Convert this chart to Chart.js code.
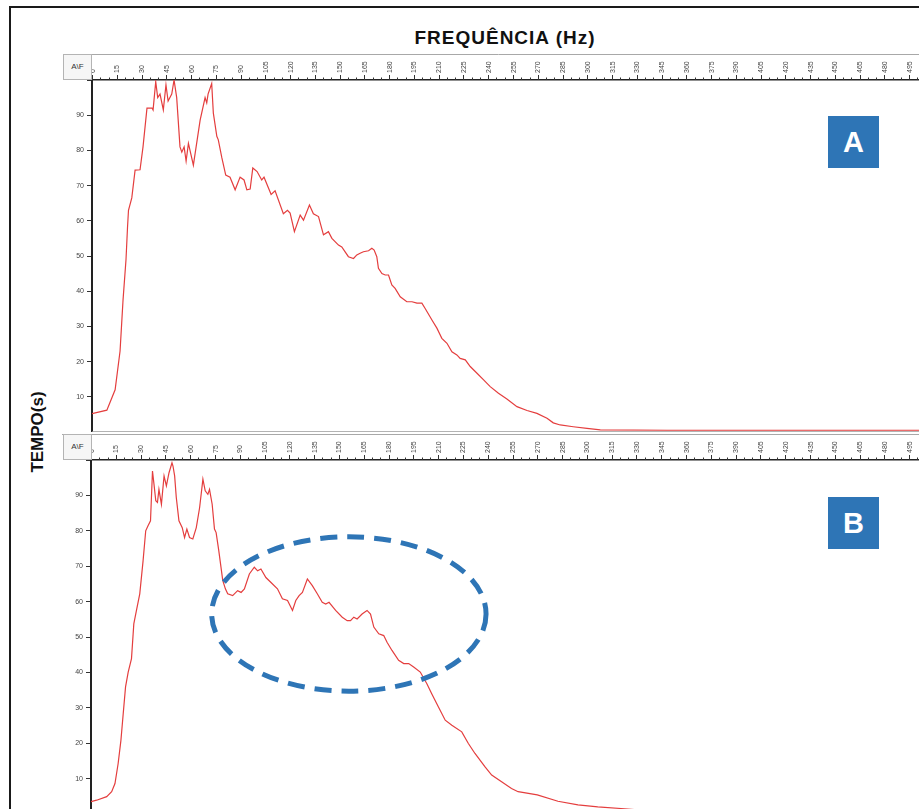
<!DOCTYPE html>
<html lang="pt">
<head>
<meta charset="UTF-8">
<title>Frequência x Tempo</title>
<script src="https://cdn.jsdelivr.net/npm/chart.js"></script>
<style>
  html, body { margin: 0; padding: 0; background: #fff; width: 919px; height: 809px; overflow: hidden; }
  body { position: relative; font-family: "Liberation Sans", Arial, sans-serif; }
  .moldura { position: absolute; left: 9px; top: 6px; width: 1000px; height: 1000px; border: 2px solid #1a1a1a; }
  .titulo { position: absolute; left: 355px; width: 300px; top: 27px; text-align: center;
            font-weight: bold; font-size: 19px; letter-spacing: 1px; color: #111; }
  .eixo-y { position: absolute; left: 38px; top: 432px; transform: translate(-50%, -50%) rotate(-90deg);
            font-weight: bold; font-size: 17px; color: #111; white-space: nowrap; }
  canvas { position: absolute; }
  .af { position: absolute; left: 63px; width: 27px; height: 24px; border: 1px solid #b4b4b4;
        background: #f6f6f6; font-size: 8px; color: #333; text-align: center; line-height: 24px; z-index: 2; }
  .rotulo { position: absolute; left: 828px; width: 51px; height: 52px; background: #2e75b6;
            color: #fff; font-weight: bold; font-size: 29px; text-align: center; line-height: 52px; }
</style>
</head>
<body>
<div class="moldura"></div>
<div class="titulo">FREQUÊNCIA (Hz)</div>
<div class="eixo-y">TEMPO(s)</div>

<canvas id="painelA" width="871" height="378" style="left:63px; top:54px"></canvas>
<canvas id="painelB" width="872" height="380" style="left:62px; top:434px"></canvas>
<div class="af" style="top:54px">A\F</div>
<div class="af" style="top:434px">A\F</div>
<div class="rotulo" style="top:116px">A</div>
<div class="rotulo" style="top:497px">B</div>

<script>
// espectro A: frequência (Hz) e tempo (s)
const freqA = [0, 9, 14, 17, 18.8, 20.6, 21.5, 22.1, 24.1, 26.1, 29.1, 30.9, 33.3, 36.4, 37, 38.6, 39.8, 41.2,
  43.2, 44.8, 46.1, 48.3, 49.7, 51.3, 53.3, 54.4, 55.8, 57, 58.4, 61.4, 65.5, 68.5, 69.5, 70.3, 72.5, 73.5,
  75.6, 76.5, 78.6, 81, 83.6, 86.7, 89.7, 92.1, 93.8, 95.8, 97.4, 100, 102.8, 104.2, 108.5, 110.9, 115.9,
  118.4, 120, 122.6, 126.1, 128.1, 131.7, 134.1, 137.2, 140.2, 143.2, 145.3, 149.3, 151.3, 155.3, 158.4,
  160.4, 162.4, 164.4, 167.5, 169.5, 170.9, 172.5, 173.5, 175.6, 177.6, 179.6, 181.6, 183.6, 186.7, 190.7,
  193.8, 196.8, 199.8, 201.8, 205.9, 208.9, 211.9, 215, 218, 221, 223, 226.1, 229.1, 233.2, 237.2, 241.2,
  246.2, 251.3, 257.4, 263.5, 269.5, 275.6, 279.4, 283.6, 291.5, 299.8, 307.9, 348.5, 510];
const tempoA = [5.2, 6.2, 12, 23, 37.5, 49, 58, 63, 66.5, 74.4, 74.5, 81, 92, 92, 91.5, 99.5, 95, 96,
  91.5, 98.6, 94, 96, 100, 95, 81, 79.5, 81, 77, 82, 75.8, 88.6, 95, 93.5, 96, 99, 90.6,
  84, 83, 78, 73, 72.4, 68.8, 72.4, 71.6, 68.8, 69, 75, 74, 71.6, 72.4, 67.5, 68.5, 62,
  63, 62.2, 56.9, 61.6, 60.2, 64.5, 62, 61.2, 56, 56.9, 55, 53.1, 52.6, 49.8, 49.3,
  50.3, 50.8, 51.2, 51.5, 52.2, 51.7, 49.8, 46.5, 45, 44.6, 44.6, 41.8, 40.8, 38.4, 37,
  37, 36.6, 36.6, 35.1, 31.8, 29.5, 26.6, 25.2, 22.8, 21.9, 20.9, 20.5, 18.6, 16.7, 14.8, 12.9,
  11, 9.4, 7.2, 6.1, 5.3, 3.9, 2.6, 2, 1.5, 1.05, 0.6, 0.5, 0.5];

// espectro B
const freqB = [0, 3.4, 9.5, 12.5, 14.5, 16.4, 18.1, 19.5, 20.9, 22.5, 24.5, 25.9, 27.5, 29.5, 31.5, 33.1,
  34.5, 36, 37.2, 38.1, 39.2, 40.2, 41.1, 42.6, 44.2, 45.6, 47.2, 49, 49.6, 50.6, 51.6, 53.2, 55.2, 56.6,
  58, 59.6, 61.6, 63.7, 65.7, 67.7, 69.1, 70.7, 71.7, 73.3, 74.7, 75.7, 77.3, 79.7, 81.3, 82.7, 85.7,
  88.7, 90.8, 92.8, 95.8, 98.8, 100.8, 102.8, 105.8, 108.9, 112.8, 115.8, 118.9, 121.9, 123.9, 125.9,
  127.9, 130.9, 133.9, 136.9, 139.9, 142, 144, 148, 152, 155, 157, 159, 161, 164, 167, 169.1, 171.1,
  174.1, 177.1, 179.1, 182.1, 186.1, 189.2, 192.2, 195.2, 199.2, 203.2, 206.2, 210.2, 214.3, 218.3,
  224.3, 228.3, 232.3, 238.4, 242.4, 248.4, 254.4, 258.4, 270, 282.5, 294.6, 306.6, 330.7, 360, 510];
const tempoB = [3.5, 3.9, 4.9, 6.3, 8.6, 14.2, 20.8, 28.4, 35.9, 40.1, 43.9, 53.7, 57.5, 62.2, 71.5, 80,
  81.4, 82.8, 96.9, 93.2, 88.5, 88, 91.7, 87.5, 95.5, 92.7, 96.4, 99.2, 98.3, 95.5, 89.4, 82.8, 80.9, 78.1,
  80.5, 78.1, 77.7, 80.9, 86.5, 94.6, 91.3, 90.3, 91.7, 87.5, 80.5, 79.5, 74.4, 66, 63.6, 62.2, 61.7,
  63.1, 62.6, 63.6, 67.8, 69.7, 68.7, 69.2, 66.8, 65.4, 63.6, 60.8, 60.3, 57.5, 60.3, 61.7,
  62.6, 66.4, 64.5, 62.2, 59.8, 59.3, 59.8, 57.5, 55.6, 54.6, 54.6, 55.6, 55.1, 56.5, 57.5, 56.5, 52.8,
  50.9, 50.4, 48.5, 46.2, 43.4, 42.5, 42.5, 41.5, 40.1, 36.8, 33.9, 30.2, 26.5, 25.1,
  23.2, 19.9, 17.1, 13.3, 11, 9.1, 7.2, 6.3, 5.4, 3.6, 2.6, 2.0, 1.2, 0.8, 0.6];

// região destacada no espectro B (centro e raios em Hz / s)
const destaqueB = { centro: [156, 56.5], raio: [83, 21.8] };

// faixa superior de cada painel: marcas a cada 5 Hz, maiores a cada 15 Hz
const faixaEixo = {
  id: 'faixaEixo',
  afterDraw(chart) {
    const { ctx, chartArea } = chart;
    const x = chart.scales.x;
    ctx.save();
    ctx.strokeStyle = '#a8a8a8';
    ctx.lineWidth = 1;
    ctx.beginPath();
    ctx.moveTo(0, 0.5);
    ctx.lineTo(chart.width, 0.5);
    ctx.stroke();

    ctx.strokeStyle = '#333';
    for (let f = 0; f <= x.max; f += 5) {
      const px = Math.round(x.getPixelForValue(f)) + 0.5;
      const h = f % 15 === 0 ? 5 : 2.5;
      ctx.beginPath();
      ctx.moveTo(px, chartArea.top);
      ctx.lineTo(px, chartArea.top - h);
      ctx.stroke();
    }

    ctx.strokeStyle = '#9a9a9a';
    ctx.lineWidth = 1.5;
    ctx.beginPath();
    ctx.moveTo(chartArea.left, chartArea.bottom);
    ctx.lineTo(chart.width, chartArea.bottom);
    ctx.stroke();
    ctx.restore();
  }
};

// elipse tracejada em coordenadas de dados
const elipse = {
  id: 'elipse',
  afterDatasetsDraw(chart, args, opts) {
    if (!opts.centro) return;
    const { ctx, scales: { x, y } } = chart;
    const cx = x.getPixelForValue(opts.centro[0]);
    const cy = y.getPixelForValue(opts.centro[1]);
    const rx = x.getPixelForValue(opts.centro[0] + opts.raio[0]) - cx;
    const ry = cy - y.getPixelForValue(opts.centro[1] + opts.raio[1]);
    ctx.save();
    ctx.strokeStyle = '#2e75b6';
    ctx.lineWidth = 5;
    ctx.setLineDash([17, 10]);
    ctx.beginPath();
    ctx.ellipse(cx, cy, rx, ry, 0, 0, Math.PI * 2);
    ctx.stroke();
    ctx.restore();
  }
};

function painel(id, freq, tempo, plugins, opcoes) {
  const ctx = document.getElementById(id).getContext('2d');
  return new Chart(ctx, {
    type: 'line',
    data: {
      datasets: [{
        data: freq.map((f, i) => ({ x: f, y: tempo[i] })),
        borderColor: 'rgb(228, 62, 62)',
        borderWidth: 1.2,
        pointRadius: 0,
        tension: 0,
        fill: false
      }]
    },
    options: {
      responsive: false,
      animation: false,
      layout: { padding: 0 },
      plugins: Object.assign({ legend: { display: false }, tooltip: { enabled: false } }, opcoes),
      scales: {
        x: {
          type: 'linear',
          position: 'top',
          min: 0,
          max: 510,
          afterFit: s => { s.height = 26; s.paddingLeft = 0; s.paddingRight = 0; },
          ticks: {
            stepSize: 15,
            autoSkip: false,
            minRotation: 90,
            maxRotation: 90,
            padding: 7,
            labelOffset: 9,
            color: '#444',
            font: { size: 7, family: 'Liberation Sans' }
          },
          grid: { display: false, drawTicks: false },
          border: { display: true, color: '#222', width: 1.5 }
        },
        y: {
          min: 0,
          max: 100,
          afterFit: s => { s.width = 29; s.paddingTop = 0; s.paddingBottom = 0; },
          ticks: {
            stepSize: 10,
            padding: 3,
            color: '#444',
            font: { size: 7, family: 'Liberation Sans' },
            callback: v => (v === 0 || v === 100) ? '' : v
          },
          grid: { drawOnChartArea: false, tickLength: 5, color: '#333' },
          border: { display: true, color: '#222', width: 2 }
        }
      }
    },
    plugins: plugins
  });
}

painel('painelA', freqA, tempoA, [faixaEixo], {});
painel('painelB', freqB, tempoB, [faixaEixo, elipse], { elipse: destaqueB });
</script>
</body>
</html>
